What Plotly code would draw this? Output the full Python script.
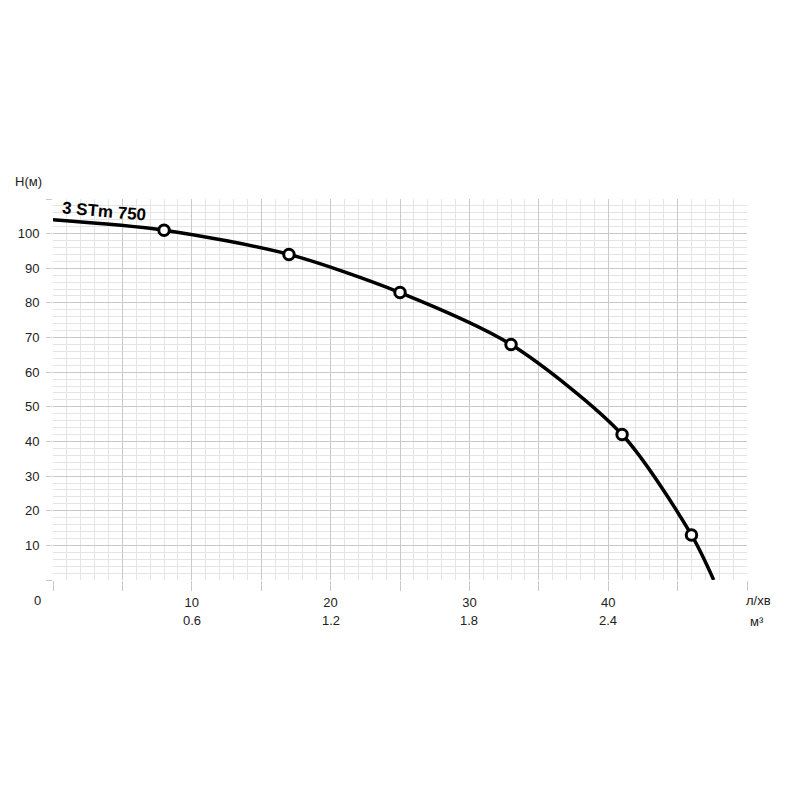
import plotly.graph_objects as go

# Data
curve_q = [0, 8, 17, 25, 33, 41, 46, 47.6]
curve_h = [104, 101, 94, 83, 68, 42, 13, 0]
marker_q = [8, 17, 25, 33, 41, 46]
marker_h = [101, 94, 83, 68, 42, 13]
x_tick_vals = [0, 5, 10, 15, 20, 25, 30, 35, 40, 45, 50]
x_tick_text = ["", "", "10", "", "20", "", "30", "", "40", "", ""]
x_second_vals = [10, 20, 30, 40]
x_second_text = ["0.6", "1.2", "1.8", "2.4"]
y_tick_vals = [0, 10, 20, 30, 40, 50, 60, 70, 80, 90, 100, 110]
y_tick_text = ["", "10", "20", "30", "40", "50", "60", "70", "80", "90", "100", ""]
series_name = "3 STm 750"

FONT = "Liberation Sans, Arial, sans-serif"
MAJOR = "#c9c9c9"
MINOR = "#e4e4e4"
TXT = "#222"

fig = go.Figure()
fig.add_trace(go.Scatter(x=curve_q, y=curve_h, mode="lines",
                         line=dict(color="black", width=3.5, shape="spline", smoothing=0.8),
                         showlegend=False, hoverinfo="skip"))
fig.add_trace(go.Scatter(x=marker_q, y=marker_h, mode="markers",
                         marker=dict(size=10.5, color="white", line=dict(color="black", width=3)),
                         showlegend=False))

annotations = []
for v, t in zip(x_second_vals, x_second_text):
    annotations.append(dict(x=v, y=-0.105, xref="x", yref="paper", yanchor="middle",
                            xanchor="center", text=t, showarrow=False,
                            font=dict(family=FONT, size=13, color=TXT)))
annotations += [
    dict(x=-0.023, y=-0.0525, xref="paper", yref="paper", xanchor="center", yanchor="middle",
         text="0", showarrow=False, font=dict(family=FONT, size=13, color=TXT)),
    dict(x=-0.036, y=1.047, xref="paper", yref="paper", xanchor="center", yanchor="middle",
         text="H(м)", showarrow=False, font=dict(family=FONT, size=13, color=TXT)),
    dict(x=1.0, y=-0.0525, xref="paper", yref="paper", xanchor="left", yanchor="middle",
         text="л/хв", showarrow=False, xshift=-3, font=dict(family=FONT, size=13, color=TXT)),
    dict(x=1.0, y=-0.11, xref="paper", yref="paper", xanchor="left", yanchor="middle",
         text="м³", showarrow=False, xshift=1, font=dict(family=FONT, size=13, color=TXT)),
    dict(x=3.7, y=106.3, xref="x", yref="y", xanchor="center", yanchor="middle",
         text="<b>" + series_name + "</b>", showarrow=False,
         textangle=5, font=dict(family=FONT, size=17, color="black")),
]

fig.update_layout(
    width=800, height=800,
    paper_bgcolor="white", plot_bgcolor="white",
    margin=dict(l=45, r=61, t=191, b=228, autoexpand=False),
    annotations=annotations,
    xaxis=dict(range=[0, 50], tickvals=x_tick_vals, ticktext=x_tick_text, automargin=False,
               showgrid=True, gridcolor=MAJOR, gridwidth=1,
               minor=dict(dtick=1, tick0=0, showgrid=True, gridcolor=MINOR, gridwidth=1, ticks=""),
               ticks="outside", ticklen=10, tickcolor=MAJOR, zeroline=False, showline=False,
               tickfont=dict(family=FONT, size=13, color=TXT)),
    yaxis=dict(range=[0, 110], tickvals=y_tick_vals, ticktext=y_tick_text, automargin=False,
               showgrid=True, gridcolor=MAJOR, gridwidth=1,
               minor=dict(dtick=2, tick0=0, showgrid=True, gridcolor=MINOR, gridwidth=1, ticks=""),
               ticks="outside", ticklen=6, tickcolor=MAJOR, zeroline=False, showline=False,
               ticklabelstandoff=4,
               tickfont=dict(family=FONT, size=13, color=TXT)),
)

fig.write_html("out.html")
